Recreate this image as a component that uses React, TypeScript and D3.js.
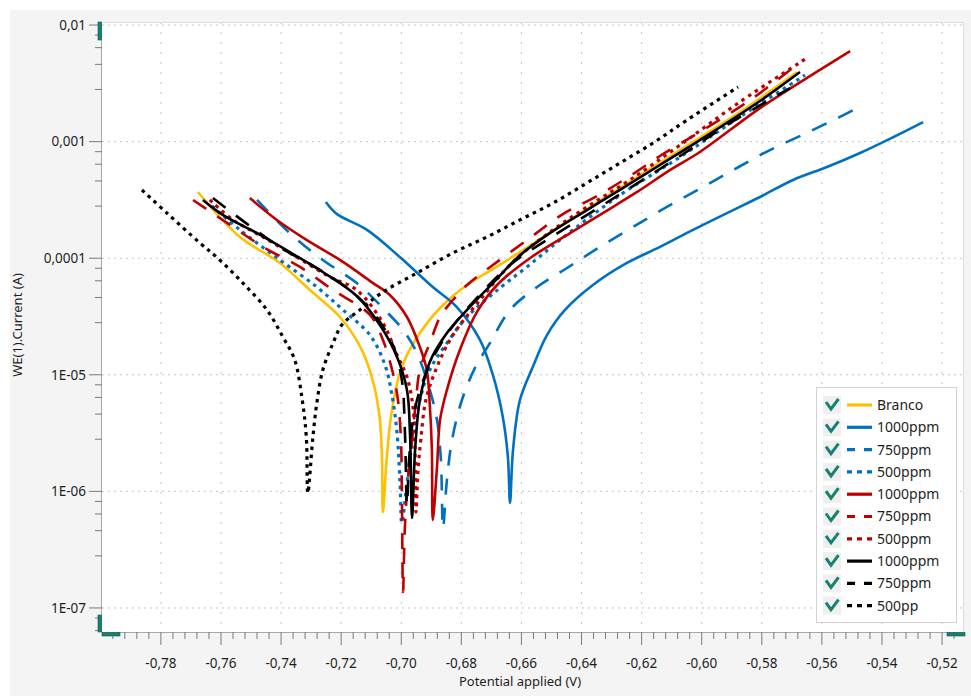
import React from 'react';
import * as d3 from 'd3';

// Tafel curves: [potential (V), current (A)]
const branco: [number, number][] = [
  [-0.7677, 3.7e-4], [-0.7537, 1.52e-4], [-0.7404, 9.1e-5], [-0.7304, 5.33e-5], [-0.7204, 3.13e-5],
  [-0.7131, 1.63e-5], [-0.7091, 8.18e-6], [-0.7071, 4.09e-6], [-0.7064, 1.86e-6], [-0.7061, 6.65e-7],
  [-0.7048, 1.97e-6], [-0.7031, 4.99e-6], [-0.6998, 1.17e-5], [-0.6938, 2.28e-5], [-0.6861, 3.97e-5],
  [-0.6781, 5.89e-5], [-0.6672, 8.75e-5], [-0.6605, 1.13e-4], [-0.6472, 1.89e-4], [-0.6272, 4.0e-4],
  [-0.6072, 8.47e-4], [-0.5873, 1.79e-3], [-0.5683, 3.95e-3],
];
const blue1000: [number, number][] = [
  [-0.7251, 3.03e-4], [-0.7215, 2.4e-4], [-0.7114, 1.75e-4], [-0.7004, 1.02e-4], [-0.6895, 5.66e-5],
  [-0.6815, 3.81e-5], [-0.6738, 1.99e-5], [-0.6695, 9.96e-6], [-0.6662, 4.35e-6], [-0.6645, 1.97e-6],
  [-0.6638, 7.96e-7], [-0.6628, 2.26e-6], [-0.6605, 6.08e-6], [-0.6562, 1.17e-5], [-0.6515, 2.19e-5],
  [-0.6455, 3.6e-5], [-0.6362, 5.89e-5], [-0.6249, 9.1e-5], [-0.6139, 1.25e-4], [-0.6029, 1.75e-4],
  [-0.5916, 2.44e-4], [-0.5806, 3.35e-4], [-0.5696, 4.69e-4], [-0.5583, 6.05e-4], [-0.5473, 7.98e-4],
  [-0.5363, 1.09e-3], [-0.5263, 1.47e-3],
];
const blue750: [number, number][] = [
  [-0.748, 3.16e-4], [-0.7371, 1.64e-4], [-0.7261, 9.66e-5], [-0.7148, 6.12e-5], [-0.7061, 3.74e-5],
  [-0.6994, 2.42e-5], [-0.6948, 1.54e-5], [-0.6905, 7.41e-6], [-0.6881, 4.09e-6], [-0.6868, 1.86e-6],
  [-0.6861, 4.85e-7], [-0.6848, 1.25e-6], [-0.6831, 2.76e-6], [-0.6798, 6.08e-6], [-0.6755, 1.14e-5],
  [-0.6705, 1.87e-5], [-0.6638, 3.6e-5], [-0.6548, 5.66e-5], [-0.6448, 8.24e-5], [-0.6339, 1.25e-4],
  [-0.6229, 1.85e-4], [-0.6116, 2.75e-4], [-0.5996, 4.08e-4], [-0.5883, 5.94e-4], [-0.5773, 8.47e-4],
  [-0.565, 1.19e-3], [-0.554, 1.63e-3], [-0.5483, 1.94e-3],
];
const blue500: [number, number][] = [
  [-0.763, 2.81e-4], [-0.7537, 1.75e-4], [-0.7404, 9.66e-5], [-0.7281, 5.66e-5], [-0.7194, 3.6e-5],
  [-0.7104, 2.19e-5], [-0.7054, 1.21e-5], [-0.7031, 6.71e-6], [-0.7014, 3.17e-6], [-0.7004, 1.18e-6],
  [-0.6998, 5.36e-7], [-0.6981, 1.18e-6], [-0.6961, 2.93e-6], [-0.6938, 6.08e-6], [-0.6905, 1.1e-5],
  [-0.6848, 1.87e-5], [-0.6781, 3.13e-5], [-0.6672, 5.55e-5], [-0.6582, 8.41e-5], [-0.6472, 1.43e-4],
  [-0.6272, 3.48e-4], [-0.6072, 7.38e-4], [-0.5873, 1.63e-3], [-0.5656, 3.72e-3],
];
const red1000: [number, number][] = [
  [-0.7504, 3.28e-4], [-0.7414, 2.13e-4], [-0.7314, 1.43e-4], [-0.7204, 9.66e-5], [-0.7094, 6.12e-5],
  [-0.7038, 4.83e-5], [-0.6981, 3.13e-5], [-0.6938, 1.73e-5], [-0.6915, 1.1e-5], [-0.6905, 5.51e-6],
  [-0.6898, 2.26e-6], [-0.6895, 5.69e-7], [-0.6881, 1.62e-6], [-0.6871, 4.09e-6], [-0.6848, 7.41e-6],
  [-0.6805, 1.63e-5], [-0.6748, 3.46e-5], [-0.6681, 5.89e-5], [-0.6572, 1.0e-4], [-0.6438, 1.64e-4],
  [-0.6329, 2.44e-4], [-0.6215, 3.7e-4], [-0.6106, 5.7e-4], [-0.6006, 8.15e-4], [-0.5806, 1.94e-3],
  [-0.564, 3.65e-3], [-0.5506, 5.98e-3],
];
const red750: [number, number][] = [
  [-0.7693, 3.16e-4], [-0.757, 1.93e-4], [-0.746, 1.25e-4], [-0.7337, 8.41e-5], [-0.7227, 5.33e-5],
  [-0.7104, 3.26e-5], [-0.7061, 1.99e-5], [-0.7028, 1.04e-5], [-0.7011, 6.08e-6], [-0.7001, 2.76e-6],
  [-0.6998, 1.03e-6], [-0.6994, 1.37e-7], [-0.6988, 4.85e-7], [-0.6978, 1.25e-6], [-0.6964, 2.76e-6],
  [-0.6951, 6.08e-6], [-0.6938, 1.1e-5], [-0.6905, 1.87e-5], [-0.6871, 3.13e-5], [-0.6848, 3.81e-5],
  [-0.6781, 5.89e-5], [-0.6695, 8.75e-5], [-0.6572, 1.49e-4], [-0.6462, 2.39e-4], [-0.6349, 3.41e-4],
  [-0.6239, 5.07e-4], [-0.6129, 7.83e-4], [-0.6006, 1.21e-3], [-0.5839, 2.27e-3], [-0.5689, 4.45e-3],
];
const red500: [number, number][] = [
  [-0.7637, 3.16e-4], [-0.756, 2.13e-4], [-0.746, 1.52e-4], [-0.7347, 1.02e-4], [-0.7237, 6.9e-5],
  [-0.7148, 5.33e-5], [-0.7061, 2.78e-5], [-0.7014, 1.48e-5], [-0.6981, 9.58e-6], [-0.6961, 5.3e-6],
  [-0.6954, 2.26e-6], [-0.6951, 6.65e-7], [-0.6944, 1.53e-6], [-0.6935, 2.76e-6], [-0.6918, 6.08e-6],
  [-0.6881, 1.17e-5], [-0.6828, 2.19e-5], [-0.6738, 4.38e-5], [-0.6628, 9.28e-5], [-0.6495, 1.75e-4],
  [-0.6372, 2.86e-4], [-0.6239, 4.69e-4], [-0.6072, 9.35e-4], [-0.5873, 2.19e-3], [-0.565, 5.21e-3],
];
const black1000: [number, number][] = [
  [-0.766, 3.16e-4], [-0.7594, 2.35e-4], [-0.748, 1.64e-4], [-0.7371, 1.13e-4], [-0.7261, 7.62e-5],
  [-0.7148, 4.74e-5], [-0.7071, 2.67e-5], [-0.7014, 1.42e-5], [-0.6981, 7.41e-6], [-0.6971, 3.17e-6],
  [-0.6964, 5.91e-7], [-0.6954, 2.26e-6], [-0.6938, 6.08e-6], [-0.6905, 1.29e-5], [-0.6848, 2.28e-5],
  [-0.6781, 3.6e-5], [-0.6695, 6.12e-5], [-0.6605, 1.06e-4], [-0.6495, 1.71e-4], [-0.6382, 2.59e-4],
  [-0.6272, 3.85e-4], [-0.6139, 6.3e-4], [-0.6006, 1.03e-3], [-0.5806, 2.23e-3], [-0.5673, 3.95e-3],
];
const black750: [number, number][] = [
  [-0.7627, 3.28e-4], [-0.7504, 1.89e-4], [-0.7394, 1.2e-4], [-0.7281, 8.24e-5], [-0.7171, 5.33e-5],
  [-0.7088, 3.26e-5], [-0.7028, 1.8e-5], [-0.6998, 9.02e-6], [-0.6988, 3.37e-6], [-0.6981, 7.64e-7],
  [-0.6974, 1.86e-6], [-0.6961, 4.09e-6], [-0.6938, 7.41e-6], [-0.6898, 1.34e-5], [-0.6838, 2.42e-5],
  [-0.6755, 4.38e-5], [-0.6638, 8.75e-5], [-0.6505, 1.49e-4], [-0.6372, 2.44e-4], [-0.6239, 4.0e-4],
  [-0.6072, 7.53e-4], [-0.5906, 1.44e-3], [-0.5706, 2.88e-3],
];
const black500: [number, number][] = [
  [-0.7863, 3.85e-4], [-0.778, 2.44e-4], [-0.767, 1.35e-4], [-0.7614, 1.02e-4], [-0.7527, 6.12e-5],
  [-0.7447, 3.6e-5], [-0.7394, 2.11e-5], [-0.7355, 1.35e-5], [-0.733, 6.2e-6], [-0.7316, 2.93e-6],
  [-0.7311, 9.68e-7], [-0.7294, 2.93e-6], [-0.7281, 5.73e-6], [-0.7261, 1.1e-5], [-0.7227, 1.87e-5],
  [-0.7198, 2.67e-5], [-0.7138, 3.6e-5], [-0.7061, 5.13e-5], [-0.6948, 7.46e-5], [-0.6828, 1.11e-4],
  [-0.6715, 1.52e-4], [-0.6605, 2.13e-4], [-0.6495, 2.97e-4], [-0.6382, 4.42e-4], [-0.6272, 6.55e-4],
  [-0.6162, 9.73e-4], [-0.6049, 1.53e-3], [-0.5879, 2.94e-3],
];

const seriesNames = ['Branco', '1000ppm', '750ppm', '500ppm', '1000ppm', '750ppm', '500ppm', '1000ppm', '750ppm', '500pp'];
const seriesData = [branco, blue1000, blue750, blue500, red1000, red750, red500, black1000, black750, black500];

const xTicks = [-0.78, -0.76, -0.74, -0.72, -0.7, -0.68, -0.66, -0.64, -0.62, -0.6, -0.58, -0.56, -0.54, -0.52];
const yTicks = [1e-2, 1e-3, 1e-4, 1e-5, 1e-6, 1e-7];
const yTickLabels = ['0,01', '0,001', '0,0001', '1E-05', '1E-06', '1E-07'];
const yMinorFactors = [0.82, 0.64, 0.46, 0.28];

// styles
const colors = ['#FFC000', '#0070C0', '#0070C0', '#0070C0', '#C00000', '#C00000', '#C00000', '#000', '#000', '#000'];
const kinds = ['solid', 'solid', 'dash', 'dot', 'solid', 'dash', 'dot', 'solid', 'dash', 'dot'];
const plotDash: Record<string, string | undefined> = { solid: undefined, dash: '16,13', dot: '3.5,4.5' };
const legendDash: Record<string, string | undefined> = { solid: undefined, dash: '8,9', dot: '5,5' };

const W = 971;
const H = 696;
const left = 102, right = 964, top = 22, bottom = 632;
const font = "'Segoe UI', 'Noto Sans', sans-serif";
const teal = '#17806f';

export default function App() {
  const x = d3.scaleLinear().domain([-0.7996, -0.5127]).range([left, right]);
  const y = d3.scaleLog().domain([6.22e-8, 0.01062]).range([bottom, top]);
  const line = d3.line<[number, number]>()
    .x((d) => x(d[0]))
    .y((d) => y(d[1]))
    .curve(d3.curveCatmullRom.alpha(0.5));

  const xMinor = d3.range(0, 72).map((i) => -0.796 + i * 0.004)
    .filter((v) => x(v) >= left && x(v) <= right && !xTicks.some((t) => Math.abs(t - v) < 1e-6));
  const yMinor = yTicks.flatMap((t) => yMinorFactors.map((f) => t * f))
    .filter((v) => y(v) > top && y(v) < bottom);

  const legY0 = 405;
  const legStep = 22.3;

  return (
    <svg width={W} height={H} style={{ position: 'absolute', left: 0, top: 0 }} fontFamily={font}>
      <defs>
        <clipPath id="plotClip">
          <rect x={left} y={top} width={right - left} height={bottom - top} />
        </clipPath>
      </defs>
      <rect x={0} y={0} width={W} height={H} fill="#fff" />
      <rect x={10} y={10} width={W - 10} height={H - 10} fill="#f4f4f4" />
      <rect x={left} y={top} width={right - left} height={bottom - top} fill="#fff" />

      {/* grid */}
      {xTicks.map((t) => (
        <line key={'gx' + t} x1={x(t)} x2={x(t)} y1={top} y2={bottom}
          stroke="#c4c4c4" strokeWidth={1} strokeDasharray="2,8" />
      ))}
      {yTicks.map((t) => (
        <line key={'gy' + t} x1={left} x2={right} y1={y(t)} y2={y(t)}
          stroke="#c4c4c4" strokeWidth={1} strokeDasharray="2,4" />
      ))}

      {/* frame */}
      <line x1={left} x2={right} y1={top + 0.5} y2={top + 0.5} stroke="#dcdcdc" />
      <line x1={right - 0.5} x2={right - 0.5} y1={top} y2={bottom} stroke="#dcdcdc" />

      {/* curves */}
      <g clipPath="url(#plotClip)" fill="none">
        {seriesData.map((d, i) => (
          <path key={'s' + i} d={line(d) ?? ''} stroke={colors[i]}
            strokeWidth={kinds[i] === 'dot' ? 3.2 : 2.6}
            strokeDasharray={plotDash[kinds[i]]} strokeLinejoin="round" />
        ))}
      </g>

      {/* y axis */}
      <line x1={left - 0.5} x2={left - 0.5} y1={top} y2={bottom} stroke="#a8a8a8" />
      {yTicks.map((t, i) => (
        <g key={'yt' + t}>
          <line x1={left - 13} x2={left} y1={y(t)} y2={y(t)} stroke="#7a7a7a" />
          <text x={left - 16} y={y(t)} dy="0.35em" textAnchor="end" fontSize={13.5} fill="#1e1e1e">
            {yTickLabels[i]}
          </text>
        </g>
      ))}
      {yMinor.map((v, i) => (
        <line key={'ym' + i} x1={left - 7} x2={left} y1={y(v)} y2={y(v)} stroke="#7a7a7a" />
      ))}

      {/* x axis */}
      <line x1={left} x2={right} y1={bottom + 0.5} y2={bottom + 0.5} stroke="#a8a8a8" />
      {xTicks.map((t) => (
        <g key={'xt' + t}>
          <line x1={x(t)} x2={x(t)} y1={bottom} y2={bottom + 13} stroke="#7a7a7a" />
          <text x={x(t)} y={bottom + 31} dy="0.35em" textAnchor="middle" fontSize={13.5} fill="#1e1e1e">
            {t.toFixed(2).replace('.', ',')}
          </text>
        </g>
      ))}
      {xMinor.map((v, i) => (
        <line key={'xm' + i} x1={x(v)} x2={x(v)} y1={bottom} y2={bottom + 7} stroke="#7a7a7a" />
      ))}

      {/* range handles */}
      <rect x={98} y={top} width={3.5} height={18} fill={teal} stroke="#0d5c50" strokeWidth={0.6} />
      <rect x={98} y={bottom - 17} width={3.5} height={17} fill={teal} stroke="#0d5c50" strokeWidth={0.6} />
      <rect x={left} y={bottom + 0.5} width={18} height={3.5} fill={teal} stroke="#0d5c50" strokeWidth={0.6} />
      <rect x={947} y={bottom + 0.5} width={18} height={3.5} fill={teal} stroke="#0d5c50" strokeWidth={0.6} />

      {/* axis titles */}
      <text transform={`translate(22, ${(top + bottom) / 2 - 2}) rotate(-90)`} textAnchor="middle"
        fontSize={13} fill="#1e1e1e">WE(1).Current (A)</text>
      <text x={520} y={681} dy="0.35em" textAnchor="middle" fontSize={13} fill="#1e1e1e">
        Potential applied (V)
      </text>

      {/* legend */}
      <rect x={816.5} y={387.5} width={140} height={235} fill="#fff" stroke="#d2d2d2" />
      {seriesNames.map((name, i) => {
        const ry = legY0 + i * legStep;
        return (
          <g key={'lg' + i}>
            <rect x={823} y={ry - 9} width={18} height={18} fill="#efefef" />
            <path d={`M826,${ry - 3} L831,${ry + 4} L838.5,${ry - 6}`} fill="none" stroke={teal} strokeWidth={3} />
            <line x1={847} x2={872} y1={ry} y2={ry} stroke={colors[i]} strokeWidth={3.2}
              strokeDasharray={legendDash[kinds[i]]} />
            <text x={877} y={ry} dy="0.35em" fontSize={14} fill="#1e1e1e">{name}</text>
          </g>
        );
      })}
    </svg>
  );
}
